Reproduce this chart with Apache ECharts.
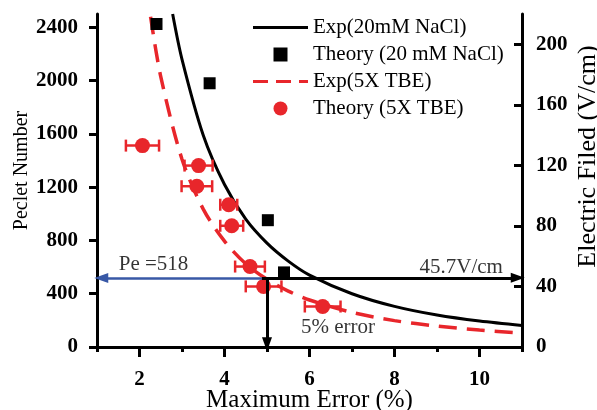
<!DOCTYPE html>
<html>
<head>
<meta charset="utf-8">
<script src="https://cdn.jsdelivr.net/npm/echarts@6/dist/echarts.min.js"></script>
<style>
  html, body { margin: 0; padding: 0; background: #fff; }
  #main { width: 597px; height: 410px; }
</style>
</head>
<body>
<div id="main"></div>
<script>
// Exp(20mM NaCl) curve
var expNaclX = [2.78, 3.0, 3.5, 4.0, 4.5, 5.0, 5.5, 6.0, 7.0, 8.0, 9.0, 10.0, 11.0];
var expNaclPe = [2500, 2160, 1590, 1220, 960, 780, 645, 540, 400, 305, 240, 195, 162];

// Exp(5X TBE) curve
var expTbeX = [2.26, 2.5, 3.0, 3.5, 4.0, 4.5, 5.0, 5.5, 6.0, 7.0, 8.0, 9.0, 10.0, 11.0];
var expTbePe = [2480, 2030, 1410, 1035, 795, 625, 508, 420, 353, 260, 198, 157, 127, 105];

// Theory (20 mM NaCl) squares
var thNaclX = [2.4, 3.65, 5.02, 5.4];
var thNaclPe = [2425, 1980, 952, 560];

// Theory (5X TBE) circles, with x error
var thTbeX = [2.07, 3.39, 3.35, 4.10, 4.17, 4.60, 4.92, 6.31];
var thTbePe = [1512, 1362, 1207, 1068, 910, 604, 455, 304];
var thTbeErr = [0.39, 0.33, 0.36, 0.20, 0.27, 0.35, 0.42, 0.42];

var xMajor = [2, 4, 6, 8, 10];
var xMinor = [1, 3, 5, 7, 9, 11];
var peTicks = [0, 400, 800, 1200, 1600, 2000, 2400];
var fieldTicks = [0, 40, 80, 120, 160, 200];

var peMarked = 518;     // Pe =518
var fieldMarked = 45.7; // 45.7V/cm
var errMarked = 5;      // 5% error

var FONT = "'Liberation Serif', 'Times New Roman', serif";
var RED = '#e8262b';
var BLUE = '#3858a6';

function zip(a, b) {
  return a.map(function (v, i) { return [v, b[i]]; });
}
function plain(v) { return String(v); }

function renderErr(params, api) {
  var y = api.value(1);
  var a = api.coord([api.value(0) - api.value(2), y]);
  var b = api.coord([api.value(0) + api.value(2), y]);
  var h = 6;
  var st = { stroke: RED, lineWidth: 2.5 };
  return {
    type: 'group',
    children: [
      { type: 'line', shape: { x1: a[0], y1: a[1], x2: b[0], y2: b[1] }, style: st },
      { type: 'line', shape: { x1: a[0], y1: a[1] - h, x2: a[0], y2: a[1] + h }, style: st },
      { type: 'line', shape: { x1: b[0], y1: b[1] - h, x2: b[0], y2: b[1] + h }, style: st }
    ]
  };
}

var labelStyle = { fontFamily: FONT, fontSize: 21, fontWeight: 'bold', color: '#000', formatter: plain };

var option = {
  animation: false,
  backgroundColor: '#fff',
  grid: { left: 97, right: 75, top: 14, bottom: 63, outerBoundsMode: 'none', containLabel: false },
  legend: {
    orient: 'vertical',
    left: 248,
    top: 12,
    itemWidth: 55,
    itemHeight: 14,
    itemGap: 6,
    textStyle: { fontFamily: FONT, fontSize: 21, color: '#000' },
    data: [
      { name: 'Exp(20mM NaCl)', icon: 'path://M0,0h55v3h-55z' },
      { name: 'Theory (20 mM NaCl)', icon: 'path://M0,0h12v12h-12z' },
      { name: 'Exp(5X TBE)', icon: 'path://M0,0h15v3h-15z M23,0h15v3h-15z M46,0h9v3h-9z' },
      { name: 'Theory (5X TBE)', icon: 'circle' }
    ]
  },
  xAxis: [
    {
      type: 'value', min: 1, max: 11,
      name: 'Maximum Error (%)', nameLocation: 'middle', nameGap: 41, nameMoveOverlap: false,
      nameTextStyle: { fontFamily: FONT, fontSize: 25, color: '#000' },
      axisLine: { lineStyle: { color: '#000', width: 3 } },
      axisTick: { customValues: xMajor, length: 10, lineStyle: { width: 3, color: '#000' } },
      axisLabel: Object.assign({ customValues: xMajor, margin: 22 }, labelStyle),
      splitLine: { show: false }
    },
    {
      type: 'value', min: 1, max: 11, position: 'bottom',
      axisLine: { show: false },
      axisTick: { customValues: xMinor, length: 5, lineStyle: { width: 3, color: '#000' } },
      axisLabel: { show: false },
      splitLine: { show: false }
    }
  ],
  yAxis: [
    {
      type: 'value', min: 0, max: 2500,
      name: 'Peclet Number', nameLocation: 'middle', nameGap: 65, nameRotate: 90, nameMoveOverlap: false,
      nameTextStyle: { fontFamily: FONT, fontSize: 20, color: '#000', padding: [0, 0, 0, 20] },
      axisLine: { show: true, lineStyle: { color: '#000', width: 3 } },
      axisTick: { customValues: peTicks, length: 8, lineStyle: { width: 3, color: '#000' } },
      axisLabel: Object.assign({ customValues: peTicks, margin: 19 }, labelStyle),
      splitLine: { show: false }
    },
    {
      type: 'value', min: 0, max: 220, position: 'right',
      name: 'Electric Filed (V/cm)', nameLocation: 'middle', nameGap: 53, nameRotate: 90, nameMoveOverlap: false,
      nameTextStyle: { fontFamily: FONT, fontSize: 26, color: '#000', padding: [0, 0, 0, 48] },
      axisLine: { show: true, lineStyle: { color: '#000', width: 3 } },
      axisTick: { customValues: fieldTicks, inside: true, length: 8, lineStyle: { width: 3, color: '#000' } },
      axisLabel: Object.assign({ customValues: fieldTicks, margin: 14 }, labelStyle),
      splitLine: { show: false }
    }
  ],
  series: [
    {
      name: 'Exp(20mM NaCl)', type: 'line', smooth: 0.3, symbol: 'none',
      lineStyle: { color: '#000', width: 3 }, itemStyle: { color: '#000' },
      data: zip(expNaclX, expNaclPe), z: 2
    },
    {
      name: 'Exp(5X TBE)', type: 'line', smooth: 0.3, symbol: 'none',
      lineStyle: { color: RED, width: 3.5, type: [18, 10] }, itemStyle: { color: RED },
      data: zip(expTbeX, expTbePe), z: 2
    },
    {
      name: 'Theory (5X TBE)', type: 'custom', renderItem: renderErr,
      itemStyle: { color: RED },
      data: thTbeX.map(function (x, i) { return [x, thTbePe[i], thTbeErr[i]]; }), z: 3
    },
    {
      name: 'Theory (5X TBE)', type: 'scatter', symbol: 'circle', symbolSize: 15,
      itemStyle: { color: RED, opacity: 1 },
      data: zip(thTbeX, thTbePe), z: 4
    },
    {
      name: 'Theory (20 mM NaCl)', type: 'scatter', symbol: 'rect', symbolSize: 12,
      itemStyle: { color: '#000', opacity: 1 },
      data: zip(thNaclX, thNaclPe), z: 5
    },
    {
      name: 'marks-left', type: 'line', data: [], z: 6,
      markLine: {
        silent: true, symbol: ['none', 'triangle'], symbolSize: [10, 14],
        label: { show: false },
        data: [
          [{ coord: [4.88, peMarked], lineStyle: { color: BLUE, width: 2.5, type: 'solid' } }, { coord: [1.1, peMarked] }],
          [{ coord: [errMarked, peMarked], lineStyle: { color: '#000', width: 3, type: 'solid' } }, { coord: [errMarked, 20] }]
        ]
      }
    },
    {
      name: 'marks-right', type: 'line', yAxisIndex: 1, data: [], z: 6,
      markLine: {
        silent: true, symbol: ['none', 'triangle'], symbolSize: [10, 14],
        label: { show: false },
        data: [
          [{ coord: [4.88, fieldMarked], lineStyle: { color: '#000', width: 3, type: 'solid' } }, { coord: [10.9, fieldMarked] }]
        ]
      }
    },
    {
      name: 'notes', type: 'scatter', symbolSize: 0, z: 7,
      label: { show: true, position: 'inside', formatter: '{b}', fontFamily: FONT, fontSize: 21, color: '#000' },
      data: [
        { name: 'Pe =518', value: [2.33, 617] },
        { name: '45.7V/cm', value: [9.57, 594] },
        { name: '5% error', value: [6.67, 143] }
      ]
    }
  ]
};

var myChart = echarts.init(document.getElementById('main'));
myChart.setOption(option);
</script>
</body>
</html>
